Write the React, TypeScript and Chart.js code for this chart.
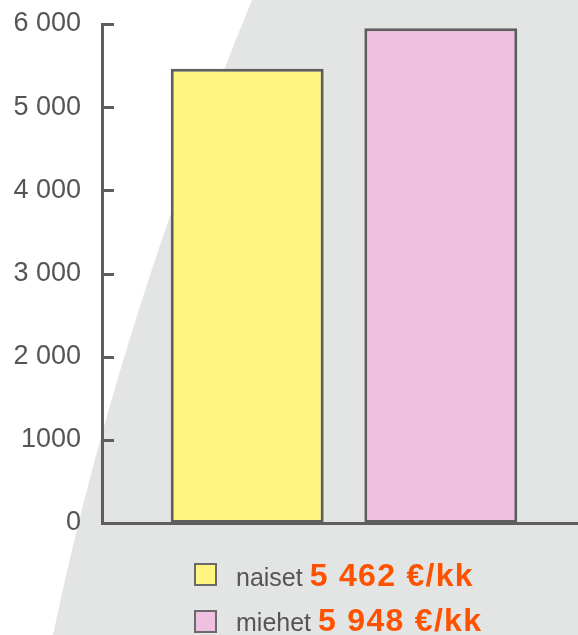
import React, { useEffect, useRef } from 'react';
import { Chart, registerables } from 'chart.js';

Chart.register(...registerables);

const categories = ['naiset', 'miehet'];
const salaries = [5462, 5948];
const unit = '€/kk';
const barColors = ['#fff580', '#f0c0e0'];
const yTickValues = [0, 1000, 2000, 3000, 4000, 5000, 6000];
const yTickLabels = ['0', '1000', '2 000', '3 000', '4 000', '5 000', '6 000'];

const axisColor = '#5e5e5e';
const textColor = '#555555';
const orange = '#ff5200';
const bgGray = '#e3e4e4';

function formatValue(v: number): string {
  return String(v).replace(/\B(?=(\d{3})+(?!\d))/g, ' ');
}

const backgroundPlugin = {
  id: 'bgShape',
  beforeDraw(chart: any) {
    const { ctx, width, height } = chart;
    ctx.save();
    ctx.fillStyle = '#ffffff';
    ctx.fillRect(0, 0, width, height);
    ctx.fillStyle = bgGray;
    ctx.beginPath();
    ctx.moveTo(252, 0);
    ctx.quadraticCurveTo(117, 328, 53, 635);
    ctx.lineTo(width, height);
    ctx.lineTo(width, 0);
    ctx.closePath();
    ctx.fill();
    ctx.restore();
  },
};

const innerTicksPlugin = {
  id: 'innerTicks',
  afterDatasetsDraw(chart: any) {
    const { ctx, chartArea } = chart;
    const y = chart.scales.y;
    ctx.save();
    ctx.strokeStyle = axisColor;
    ctx.lineWidth = 3;
    y.ticks.forEach((t: any) => {
      const py = Math.round(y.getPixelForValue(t.value)) + 0.5;
      ctx.beginPath();
      ctx.moveTo(chartArea.left, py);
      ctx.lineTo(chartArea.left + 12, py);
      ctx.stroke();
    });
    ctx.restore();
  },
};

function ChartCanvas() {
  const ref = useRef<HTMLCanvasElement | null>(null);
  useEffect(() => {
    if (!ref.current) return;
    const chart = new Chart(ref.current, {
      type: 'bar',
      data: {
        labels: [''],
        datasets: categories.map((c, i) => ({
          label: c,
          data: [salaries[i]],
          backgroundColor: barColors[i],
          borderColor: axisColor,
          borderWidth: 3,
          borderSkipped: false,
          categoryPercentage: 0.8,
          barPercentage: 0.79,
        })),
      },
      options: {
        animation: false,
        responsive: true,
        maintainAspectRatio: false,
        layout: { padding: { top: 24, bottom: 112, left: 0, right: 0 } },
        plugins: { legend: { display: false }, tooltip: { enabled: false } },
        scales: {
          x: {
            ticks: { display: false },
            grid: { display: false, drawTicks: false },
            border: { display: true, color: axisColor, width: 3 },
            afterFit(scale: any) {
              scale.height = 0;
            },
          },
          y: {
            min: 0,
            max: 6000,
            ticks: {
              stepSize: 1000,
              padding: 21,
              color: textColor,
              font: { family: 'Liberation Sans', size: 27 },
              callback: (v: any) => {
                const idx = yTickValues.indexOf(Number(v));
                return idx >= 0 ? yTickLabels[idx] : '';
              },
            },
            grid: { display: false, drawTicks: false },
            border: { display: true, color: axisColor, width: 3 },
            afterFit(scale: any) {
              scale.width = 102;
              scale.paddingTop = 0;
              scale.paddingBottom = 0;
            },
          },
        },
      },
      plugins: [backgroundPlugin, innerTicksPlugin],
    });
    return () => chart.destroy();
  }, []);
  return <canvas ref={ref} />;
}

export default function App() {
  const rowTops = [563, 610];
  const textTops = [557, 602];
  return (
    <div style={{ position: 'fixed', left: 0, top: 0, width: 578, height: 635, overflow: 'hidden', background: '#fff' }}>
      <div style={{ position: 'absolute', left: 0, top: 0, width: 586, height: 635 }}>
        <ChartCanvas />
      </div>
      {categories.map((c, i) => (
        <React.Fragment key={c}>
          <div
            style={{
              position: 'absolute',
              left: 194,
              top: rowTops[i],
              width: 23,
              height: 23,
              boxSizing: 'border-box',
              border: '2px solid #6a6a6a',
              background: barColors[i],
            }}
          />
          <div
            style={{
              position: 'absolute',
              left: 236,
              top: textTops[i],
              whiteSpace: 'nowrap',
              lineHeight: '36px',
              fontFamily: 'Liberation Sans, Arial, sans-serif',
              fontSize: 25,
              color: textColor,
            }}
          >
            {c}{' '}
            <span style={{ color: orange, fontWeight: 700, fontSize: 32, letterSpacing: 1.3 }}>
              {formatValue(salaries[i])} {unit}
            </span>
          </div>
        </React.Fragment>
      ))}
    </div>
  );
}
